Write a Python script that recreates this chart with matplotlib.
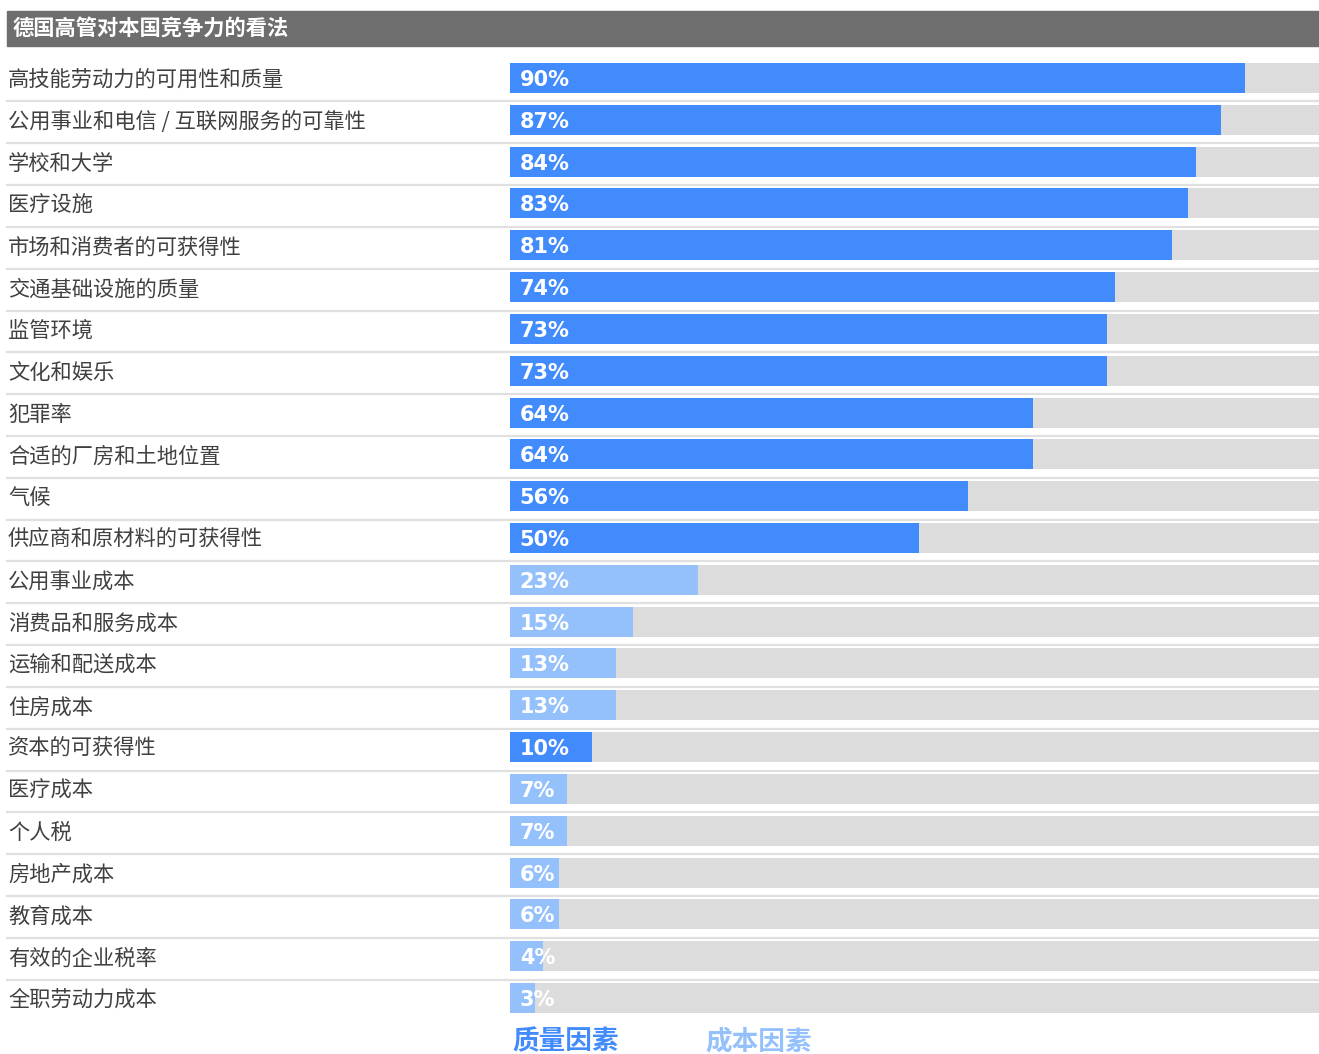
import matplotlib
matplotlib.use("Agg")
import matplotlib.pyplot as plt
import matplotlib.transforms as mtransforms

plt.rcParams['font.family'] = ['Noto Sans CJK SC', 'DejaVu Sans']

title = "德国高管对本国竞争力的看法"
categories = [
    "高技能劳动力的可用性和质量",
    "公用事业和电信 / 互联网服务的可靠性",
    "学校和大学",
    "医疗设施",
    "市场和消费者的可获得性",
    "交通基础设施的质量",
    "监管环境",
    "文化和娱乐",
    "犯罪率",
    "合适的厂房和土地位置",
    "气候",
    "供应商和原材料的可获得性",
    "公用事业成本",
    "消费品和服务成本",
    "运输和配送成本",
    "住房成本",
    "资本的可获得性",
    "医疗成本",
    "个人税",
    "房地产成本",
    "教育成本",
    "有效的企业税率",
    "全职劳动力成本",
]
values = [90, 87, 84, 83, 81, 74, 73, 73, 64, 64, 56, 50,
          23, 15, 13, 13, 10, 7, 7, 6, 6, 4, 3]
# "Q" = quality factor, "C" = cost factor
factor = ["Q"] * 12 + ["C", "C", "C", "C", "Q", "C", "C", "C", "C", "C", "C"]
legend_labels = ["质量因素", "成本因素"]

QUALITY = "#418bfc"
COST = "#94c0fc"
TRACK = "#dcdcdc"
GRID = "#e0e0e0"
HEADER = "#6e6e6e"
TEXT = "#404040"

W, H = 1319, 1054
fig = plt.figure(figsize=(W / 100, H / 100), dpi=100)

def fx(px):
    return px / W

def fy(px):
    return 1 - px / H

# header band
fig.patches.append(plt.Rectangle((fx(7), fy(46)), fx(1319 - 7), (46 - 11) / H,
                                 transform=fig.transFigure, color=HEADER, zorder=0))
fig.text(fx(13), fy(28.5), title, color="white", fontsize=15.3, fontweight="bold",
         va="center", ha="left")

n = len(categories)
pitch = 41.82
top = 78 - pitch / 2
bottom = 78 + (n - 1) * pitch + pitch / 2
ax = fig.add_axes([fx(510), fy(bottom), fx(1319 - 510), (bottom - top) / H])
ax.set_xlim(0, 99)
ax.set_ylim(n - 0.5, -0.5)
ax.axis("off")

ypos = list(range(n))
bar_h = 30 / pitch
ax.barh(ypos, [99] * n, height=bar_h, color=TRACK, zorder=1)
colors = [QUALITY if f == "Q" else COST for f in factor]
ax.barh(ypos, values, height=bar_h, color=colors, zorder=2)

blend = mtransforms.blended_transform_factory(fig.transFigure, ax.transData)
for i, (cat, v) in enumerate(zip(categories, values)):
    ax.text(fx(8), i + 0.05, cat, transform=blend, fontsize=15.3, color=TEXT,
            va="center", ha="left")
    ax.text(1.2, i, f"{v}%", fontsize=15, color="white", fontweight="bold",
            family="DejaVu Sans", va="center_baseline", ha="left", zorder=3)
    if i < n - 1:
        ax.plot([fx(7), 1.0], [i + 0.56, i + 0.56], transform=blend, color=GRID,
                lw=1.6, clip_on=False, zorder=0)

fig.text(fx(512), fy(1042), legend_labels[0], color=QUALITY, fontsize=19.2,
         fontweight="bold", va="center", ha="left")
fig.text(fx(705), fy(1042), legend_labels[1], color=COST, fontsize=19.2,
         fontweight="bold", va="center", ha="left")

fig.savefig("out.png", dpi=100, facecolor="white")
